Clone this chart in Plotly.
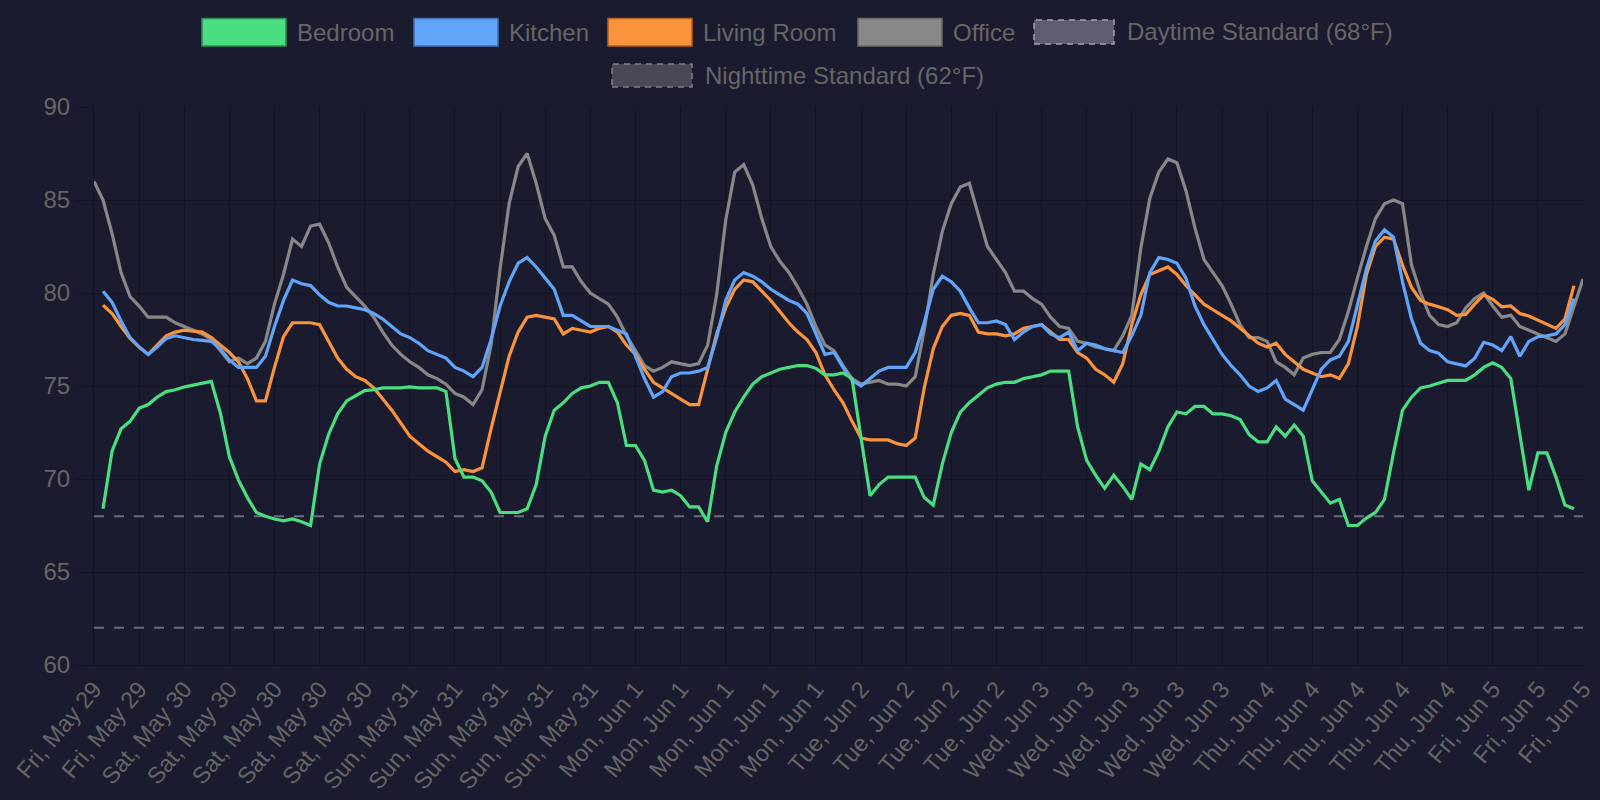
import pandas as pd
import plotly.graph_objects as go

# ---------------- data ----------------
timestamps = pd.date_range("2020-05-29 15:00", periods=166, freq="h")

office = [
    86.0, 85.0, 83.2, 81.1, 79.8, 79.3, 78.7, 78.7, 78.7, 78.4,
    78.2, 78.0, 77.8, 77.5, 76.9, 76.3, 76.5, 76.2, 76.5, 77.4,
    79.4, 81.0, 82.9, 82.5, 83.6, 83.7, 82.7, 81.4, 80.3, 79.8,
    79.3, 78.7, 77.9, 77.2, 76.7, 76.3, 76.0, 75.6, 75.4, 75.1,
    74.6, 74.4, 74.0, 74.8, 77.2, 81.3, 84.8, 86.8, 87.5, 85.9,
    84.0, 83.1, 81.4, 81.4, 80.6, 80.0, 79.7, 79.4, 78.7, 77.7,
    76.9, 76.1, 75.8, 76.0, 76.3, 76.2, 76.1, 76.2, 77.2, 79.9,
    83.9, 86.5, 86.9, 85.8, 84.0, 82.5, 81.7, 81.1, 80.3, 79.4,
    78.2, 77.2, 76.9, 76.1, 75.4, 75.1, 75.2, 75.3, 75.1, 75.1,
    75.0, 75.5, 78.0, 81.0, 83.3, 84.8, 85.7, 85.9, 84.2, 82.5,
    81.8, 81.1, 80.1, 80.1, 79.7, 79.4, 78.7, 78.2, 78.1, 77.4,
    77.3, 77.1, 77.0, 76.9, 77.7, 78.8, 82.4, 85.1, 86.5, 87.2,
    87.0, 85.5, 83.5, 81.8, 81.1, 80.4, 79.4, 78.3, 77.6, 77.6,
    77.4, 76.3, 76.0, 75.6, 76.5, 76.7, 76.8, 76.8, 77.5, 79.0,
    80.8, 82.5, 84.0, 84.8, 85.0, 84.8, 81.5, 80.0, 78.8, 78.3,
    78.2, 78.4, 79.2, 79.7, 80.0, 79.3, 78.7, 78.8, 78.2, 78.0,
    77.8, 77.6, 77.4, 77.8, 79.3, 80.75,
]

kitchen = [
    80.1, 79.5, 78.5, 77.6, 77.1, 76.7, 77.1, 77.55, 77.7, 77.6,
    77.5, 77.45, 77.4, 77.0, 76.4, 76.0, 76.0, 76.0, 76.6, 78.2,
    79.6, 80.7, 80.5, 80.4, 79.9, 79.5, 79.3, 79.3, 79.2, 79.1,
    78.9, 78.6, 78.2, 77.8, 77.6, 77.3, 76.9, 76.7, 76.5, 76.0,
    75.8, 75.5, 76.0, 77.5, 79.3, 80.6, 81.6, 81.9, 81.4, 80.8,
    80.2, 78.8, 78.8, 78.5, 78.2, 78.2, 78.2, 78.0, 77.8, 76.6,
    75.4, 74.4, 74.7, 75.5, 75.7, 75.7, 75.8, 76.0, 77.6, 79.6,
    80.7, 81.1, 80.9, 80.6, 80.2, 79.9, 79.6, 79.4, 78.9, 77.8,
    76.7, 76.8, 76.0, 75.3, 75.0, 75.4, 75.8, 76.0, 76.0, 76.0,
    76.8, 78.4, 80.2, 80.9, 80.6, 80.1, 79.2, 78.4, 78.4, 78.5,
    78.3, 77.5, 77.9, 78.2, 78.3, 77.8, 77.6, 77.9, 76.9, 77.3,
    77.2, 77.0, 76.9, 76.8, 77.7, 78.8, 81.1, 81.9, 81.8, 81.6,
    80.8, 79.3, 78.3, 77.5, 76.7, 76.1, 75.6, 75.0, 74.7, 74.9,
    75.3, 74.3, 74.0, 73.7, 74.8, 75.9, 76.4, 76.6, 77.4, 79.3,
    81.3, 82.8, 83.4, 83.0, 80.6, 78.6, 77.3, 76.9, 76.76, 76.3,
    76.2, 76.08, 76.5, 77.35, 77.2, 76.9, 77.65, 76.6, 77.4, 77.65,
    77.7, 77.8, 78.3, 79.7,
]

living_room = [
    79.35, 78.9, 78.2, 77.56, 77.1, 76.7, 77.2, 77.7, 77.9, 78.0,
    77.95, 77.9, 77.6, 77.2, 76.8, 76.3, 75.4, 74.2, 74.2, 76.0,
    77.65, 78.4, 78.4, 78.4, 78.3, 77.4, 76.5, 75.9, 75.5, 75.3,
    74.9, 74.3, 73.7, 73.0, 72.3, 71.9, 71.5, 71.2, 70.9, 70.4,
    70.5, 70.4, 70.6, 72.7, 74.6, 76.6, 77.9, 78.7, 78.8, 78.7,
    78.6, 77.8, 78.1, 78.0, 77.9, 78.1, 78.2, 77.9, 77.2, 76.7,
    75.9, 75.2, 74.9, 74.6, 74.3, 74.0, 74.0, 75.9, 77.8, 79.2,
    80.2, 80.7, 80.6, 80.1, 79.6, 79.0, 78.4, 77.9, 77.5, 76.8,
    75.6, 74.8, 74.1, 73.1, 72.2, 72.1, 72.1, 72.1, 71.9, 71.8,
    72.2, 74.9, 77.0, 78.2, 78.8, 78.9, 78.8, 77.9, 77.8, 77.8,
    77.7, 77.8, 78.1, 78.2, 78.3, 77.9, 77.5, 77.5, 76.8, 76.5,
    75.9, 75.6, 75.2, 76.2, 78.3, 79.9, 81.0, 81.2, 81.4, 81.0,
    80.4, 79.9, 79.4, 79.1, 78.8, 78.5, 78.1, 77.7, 77.3, 77.1,
    77.3, 76.7, 76.3, 75.9, 75.7, 75.5, 75.6, 75.4, 76.2, 78.2,
    81.0, 82.5, 83.0, 82.9, 81.5, 80.3, 79.6, 79.4, 79.26, 79.1,
    78.8, 78.85, 79.4, 79.9, 79.66, 79.26, 79.3, 78.9, 78.76, 78.55,
    78.3, 78.1, 78.6, 80.4,
]

bedroom = [
    68.4, 71.5, 72.7, 73.1, 73.8, 74.0, 74.4, 74.7, 74.8, 74.95,
    75.05, 75.15, 75.25, 73.55, 71.2, 69.95, 69.0, 68.2, 68.0, 67.85,
    67.75, 67.85, 67.7, 67.5, 70.8, 72.4, 73.5, 74.2, 74.5, 74.75,
    74.8, 74.9, 74.9, 74.9, 74.95, 74.9, 74.9, 74.9, 74.7, 71.1,
    70.1, 70.1, 69.9, 69.3, 68.2, 68.2, 68.2, 68.4, 69.7, 72.3,
    73.7, 74.1, 74.6, 74.9, 75.0, 75.2, 75.2, 74.1, 71.8, 71.8,
    71.0, 69.4, 69.3, 69.4, 69.1, 68.5, 68.5, 67.7, 70.7, 72.5,
    73.6, 74.4, 75.1, 75.5, 75.7, 75.9, 76.0, 76.1, 76.1, 75.95,
    75.6, 75.6, 75.7, 75.4, 72.2, 69.1, 69.7, 70.1, 70.1, 70.1,
    70.1, 69.0, 68.6, 70.8, 72.5, 73.6, 74.1, 74.5, 74.9, 75.1,
    75.2, 75.2, 75.4, 75.5, 75.6, 75.8, 75.8, 75.8, 72.8, 71.0,
    70.2, 69.5, 70.2, 69.6, 68.9, 70.8, 70.5, 71.5, 72.8, 73.6,
    73.5, 73.9, 73.9, 73.5, 73.5, 73.4, 73.2, 72.4, 72.0, 72.0,
    72.8, 72.3, 72.9, 72.3, 69.9, 69.3, 68.7, 68.9, 67.5, 67.5,
    67.9, 68.2, 68.9, 71.4, 73.7, 74.4, 74.9, 75.0, 75.15, 75.3,
    75.3, 75.3, 75.6, 76.0, 76.25, 76.0, 75.4, 72.4, 69.4, 71.4,
    71.4, 70.1, 68.6, 68.4,
]

daytime_standard = 68
nighttime_standard = 62

assert len(office) == 166
for s in (kitchen, living_room, bedroom):
    assert len(s) == 164, len(s)

room_times = timestamps[1:165]

# ---------------- styling ----------------
BG = "#1a1b2e"
GRID = "rgba(0,0,0,0.22)"
TXT = "#666666"
FONT = "Liberation Sans, Arial, sans-serif"
W, H = 1600, 800
ML, MR, MT, MB = 94, 17, 107, 135
PW, PH = W - ML - MR, H - MT - MB


def px(x):
    return (x - ML) / PW


def py(y):
    return (H - MB - y) / PH


fig = go.Figure()

ref_color = "#6c6b7b"
fig.add_trace(go.Scatter(x=[timestamps[0], timestamps[-1]], y=[daytime_standard] * 2,
                         mode="lines", name="Daytime Standard (68°F)",
                         line=dict(color=ref_color, width=2, dash="10px,10px")))
fig.add_trace(go.Scatter(x=[timestamps[0], timestamps[-1]], y=[nighttime_standard] * 2,
                         mode="lines", name="Nighttime Standard (62°F)",
                         line=dict(color=ref_color, width=2, dash="10px,10px")))

series = [
    ("Office", timestamps, office, "#888888"),
    ("Living Room", room_times, living_room, "#fb923c"),
    ("Kitchen", room_times, kitchen, "#60a5fa"),
    ("Bedroom", room_times, bedroom, "#4ade80"),
]
for name, xs, ys, col in series:
    fig.add_trace(go.Scatter(x=xs, y=ys, mode="lines", name=name,
                             line=dict(color=col, width=3.2)))

# ---------------- manual legend ----------------
legend_items = [
    # label, box x0, x1, y0, y1, fill, border, dashed, text x
    ("Bedroom", 202, 286, 18.5, 46, "#4ade80", "#2f8f58", False, 295),
    ("Kitchen", 414, 498, 18.5, 46, "#60a5fa", "#3d70b8", False, 507),
    ("Living Room", 608, 692, 18.5, 46, "#fb923c", "#b8601c", False, 701),
    ("Office", 858, 942, 18.5, 46, "#888888", "#6a6a6a", False, 951),
    ("Daytime Standard (68°F)", 1034, 1114, 20, 44, "#5e5d6f", "#a3a3b0", True, 1125),
    ("Nighttime Standard (62°F)", 612, 692, 64, 87, "#484857", "#7f7f8c", True, 703),
]
shapes = []
annotations = []
for label, x0, x1, y0, y1, fill, border, dashed, tx in legend_items:
    shapes.append(dict(type="rect", xref="paper", yref="paper",
                       x0=px(x0), x1=px(x1), y0=py(y1), y1=py(y0),
                       fillcolor=fill,
                       line=dict(color=border, width=1.5, dash="6px,5px" if dashed else "solid"),
                       layer="above"))
    annotations.append(dict(text=label, xref="paper", yref="paper",
                            x=px(tx), y=py((y0 + y1) / 2), xanchor="left", yanchor="middle",
                            showarrow=False, font=dict(family=FONT, size=24, color=TXT)))

fig.update_layout(
    width=W, height=H,
    margin=dict(l=ML, r=MR, t=MT, b=MB, pad=0, autoexpand=False),
    paper_bgcolor=BG, plot_bgcolor=BG,
    font=dict(family=FONT, size=24, color=TXT),
    showlegend=False,
    hovermode=False,
    shapes=shapes,
    annotations=annotations,
    xaxis=dict(
        type="date",
        automargin=False,
        range=[timestamps[0], timestamps[-1]],
        tick0=timestamps[0],
        dtick=5 * 3600 * 1000,
        tickformat="%a, %b %-d",
        tickangle=-50,
        showgrid=True, gridcolor=GRID, gridwidth=1,
        ticks="",
        showline=True, linecolor=GRID,
        tickfont=dict(family=FONT, size=23.5, color=TXT),
        zeroline=False,
    ),
    yaxis=dict(
        automargin=False,
        range=[60, 90],
        tick0=60, dtick=5,
        showgrid=True, gridcolor=GRID, gridwidth=1,
        ticks="outside", ticklen=18, tickcolor=GRID,
        showline=True, linecolor=GRID,
        tickfont=dict(family=FONT, size=24, color=TXT),
        zeroline=False,
    ),
)

fig.write_html("out.html")
